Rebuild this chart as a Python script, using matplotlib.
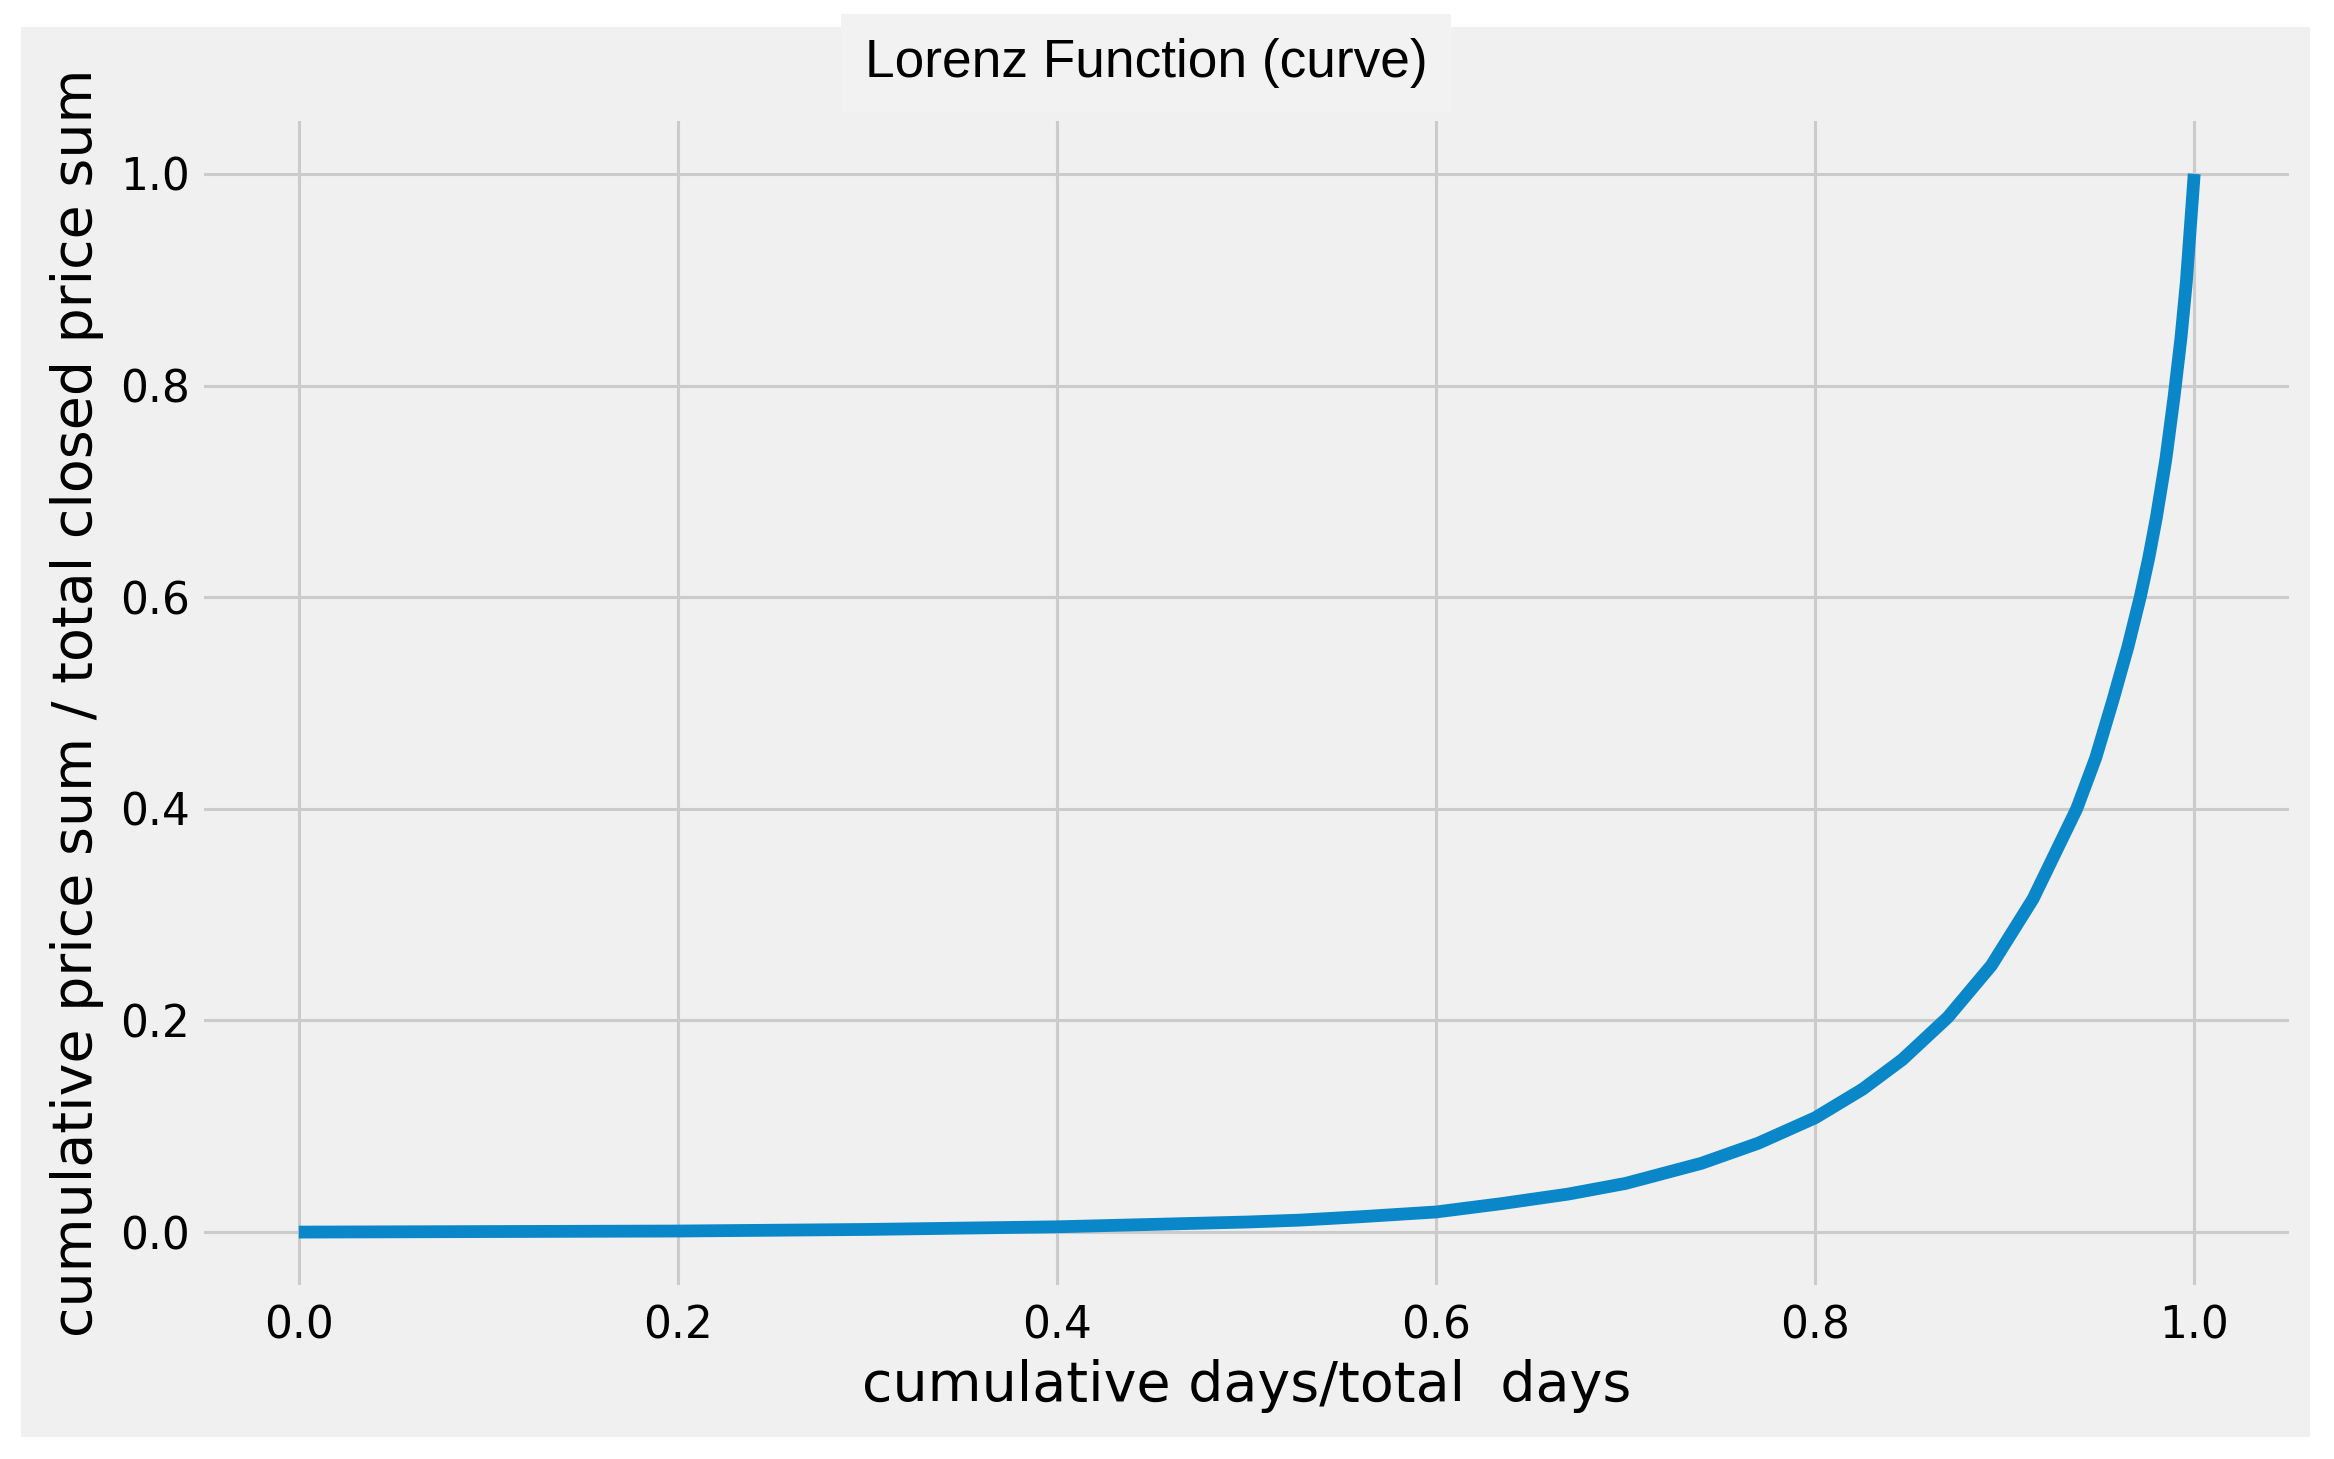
import matplotlib
matplotlib.use("Agg")
import matplotlib.pyplot as plt
from matplotlib.patches import Rectangle

# Lorenz curve values
share_days = [0.0, 0.1, 0.2, 0.3, 0.4, 0.5, 0.528, 0.56, 0.6, 0.635, 0.67, 0.7,
              0.74, 0.77, 0.8, 0.825, 0.846, 0.87, 0.893, 0.915, 0.938, 0.948,
              0.957, 0.965, 0.9715, 0.976, 0.980, 0.985, 0.9894, 0.993, 0.9958,
              1.0]
share_price = [0.0, 0.0005, 0.001, 0.0025, 0.005, 0.0095, 0.0113, 0.0145, 0.019,
               0.027, 0.036, 0.046, 0.065, 0.084, 0.108, 0.135, 0.163, 0.203,
               0.252, 0.315, 0.40, 0.448, 0.502, 0.553, 0.60, 0.637, 0.675, 0.73,
               0.79, 0.845, 0.897, 1.0]
xticks = [0.0, 0.2, 0.4, 0.6, 0.8, 1.0]
yticks = [0.0, 0.2, 0.4, 0.6, 0.8, 1.0]

title = "Lorenz Function (curve)"
xlabel = "cumulative days/total  days"
ylabel = "cumulative price sum / total closed price sum"

W, H, DPI = 2334, 1459, 200
fig = plt.figure(figsize=(W / DPI, H / DPI), dpi=DPI, facecolor="white")

# light grey panel (fivethirtyeight background) inside a white border
fig.patches.append(Rectangle((21 / W, 1 - 1437 / H), (2310 - 21) / W, (1437 - 27) / H,
                             transform=fig.transFigure, facecolor="#f0f0f0",
                             edgecolor="none", zorder=-10))

ax = fig.add_axes([204 / W, 1 - 1285 / H, (2289 - 204) / W, (1285 - 121) / H])
ax.set_zorder(1)
ax.set_facecolor("#f0f0f0")
for s in ax.spines.values():
    s.set_visible(False)

ax.plot(share_days, share_price, color="#0a87c8", linewidth=4.6,
        solid_capstyle="butt", solid_joinstyle="round", zorder=3)

ax.set_xlim(-0.05, 1.05)
ax.set_ylim(-0.05, 1.05)
ax.set_xticks(xticks)
ax.set_yticks(yticks)
ax.set_xticklabels([f"{t:.1f}" for t in xticks])
ax.set_yticklabels([f"{t:.1f}" for t in yticks])
ax.tick_params(axis="both", length=0, labelsize=15.8, colors="black")
ax.tick_params(axis="x", pad=7)
ax.tick_params(axis="y", pad=5)
ax.grid(True, color="#cbcbcb", linewidth=1.1, zorder=1)
ax.set_axisbelow(True)

ax.set_xlabel(xlabel, fontsize=20, labelpad=4, family="DejaVu Sans")
ax.set_ylabel(ylabel, fontsize=20, labelpad=6, family="DejaVu Sans")

fig.text(1146 / W, 1 - 63 / H, title, ha="center", va="center",
         fontsize=19.2, family="Liberation Sans", color="black", zorder=5,
         bbox=dict(boxstyle="square,pad=0.45", facecolor="#f2f2f2", edgecolor="none"))

fig.savefig("out.png", dpi=DPI, facecolor="white")
